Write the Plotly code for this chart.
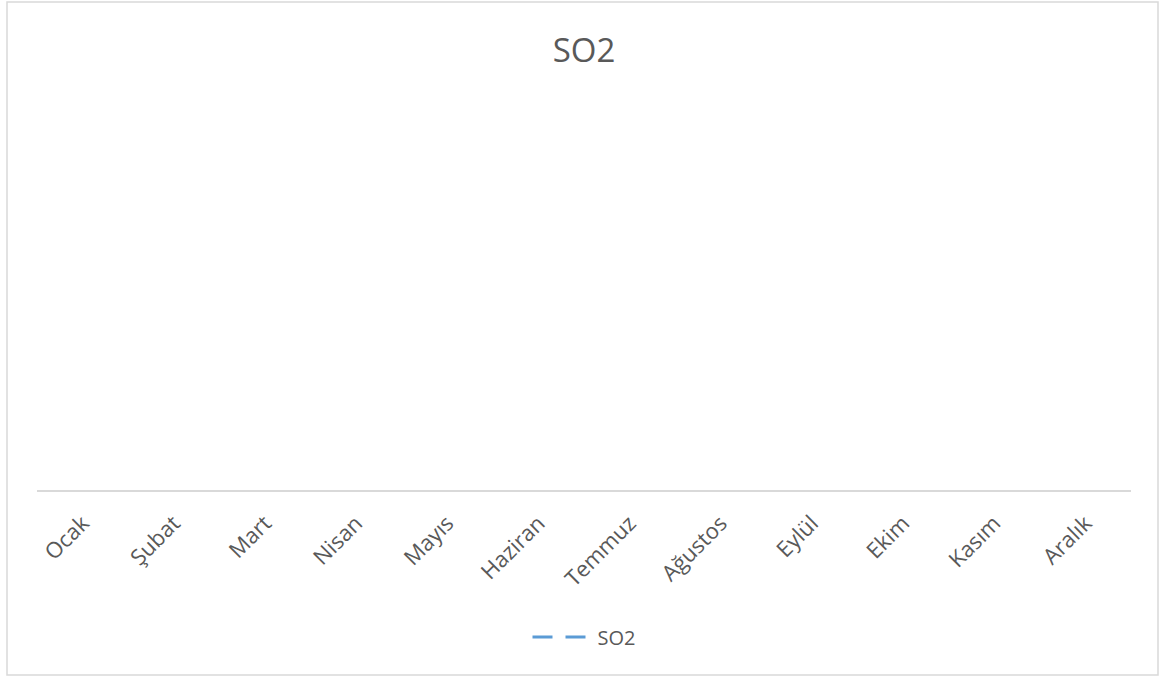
import plotly.graph_objects as go

# Monthly SO2 series (no measurements recorded)
months = ["Ocak", "Şubat", "Mart", "Nisan", "Mayıs", "Haziran",
          "Temmuz", "Ağustos", "Eylül", "Ekim", "Kasım", "Aralık"]
so2_values = [None] * 12
series_name = "SO2"

W, H = 1161, 678
ml, mr, mt, mb = 37, 30, 100, 188
pw, ph = W - ml - mr, H - mt - mb

fig = go.Figure()
fig.add_trace(go.Scatter(
    x=months, y=so2_values, name=series_name, mode="lines",
    line=dict(color="#5b9bd5", width=3, dash="20px,13px"),
    showlegend=True,
))

text_color = "#595959"
font_family = "Open Sans, Segoe UI, sans-serif"

# Outer chart border in paper coordinates
bx0, bx1, by0, by1 = 7, 1158, 2, 675
fig.add_shape(
    type="rect", xref="paper", yref="paper",
    x0=(bx0 - ml) / pw, x1=(bx1 - ml) / pw,
    y0=(H - mb - by1) / ph, y1=(H - mb - by0) / ph,
    line=dict(color="#d9d9d9", width=1.5), fillcolor="rgba(0,0,0,0)",
    layer="below",
)

fig.update_layout(
    width=W, height=H,
    margin=dict(l=ml, r=mr, t=mt, b=mb),
    paper_bgcolor="white", plot_bgcolor="white",
    title=dict(text="SO2", x=0.5, xref="paper", xanchor="center",
               y=1 - 50 / H, yanchor="middle",
               font=dict(family=font_family, size=33, color=text_color)),
    font=dict(family=font_family, color=text_color, size=14),
    xaxis=dict(
        type="category", categoryorder="array", categoryarray=months,
        range=[-0.5, 11.5], showgrid=False, zeroline=False,
        showline=True, linecolor="#d9d9d9", linewidth=1.5,
        ticks="", tickangle=-45, ticklabelstandoff=10,
        tickfont=dict(family=font_family, size=22, color=text_color),
    ),
    yaxis=dict(range=[0, 1], visible=False, showgrid=False, zeroline=False),
    legend=dict(orientation="h", x=0.5, xanchor="center", y=(H - mb - 637) / ph,
                yanchor="middle", font=dict(family=font_family, size=20, color=text_color),
                itemwidth=60),
    showlegend=True,
)

fig.write_html("out.html")
